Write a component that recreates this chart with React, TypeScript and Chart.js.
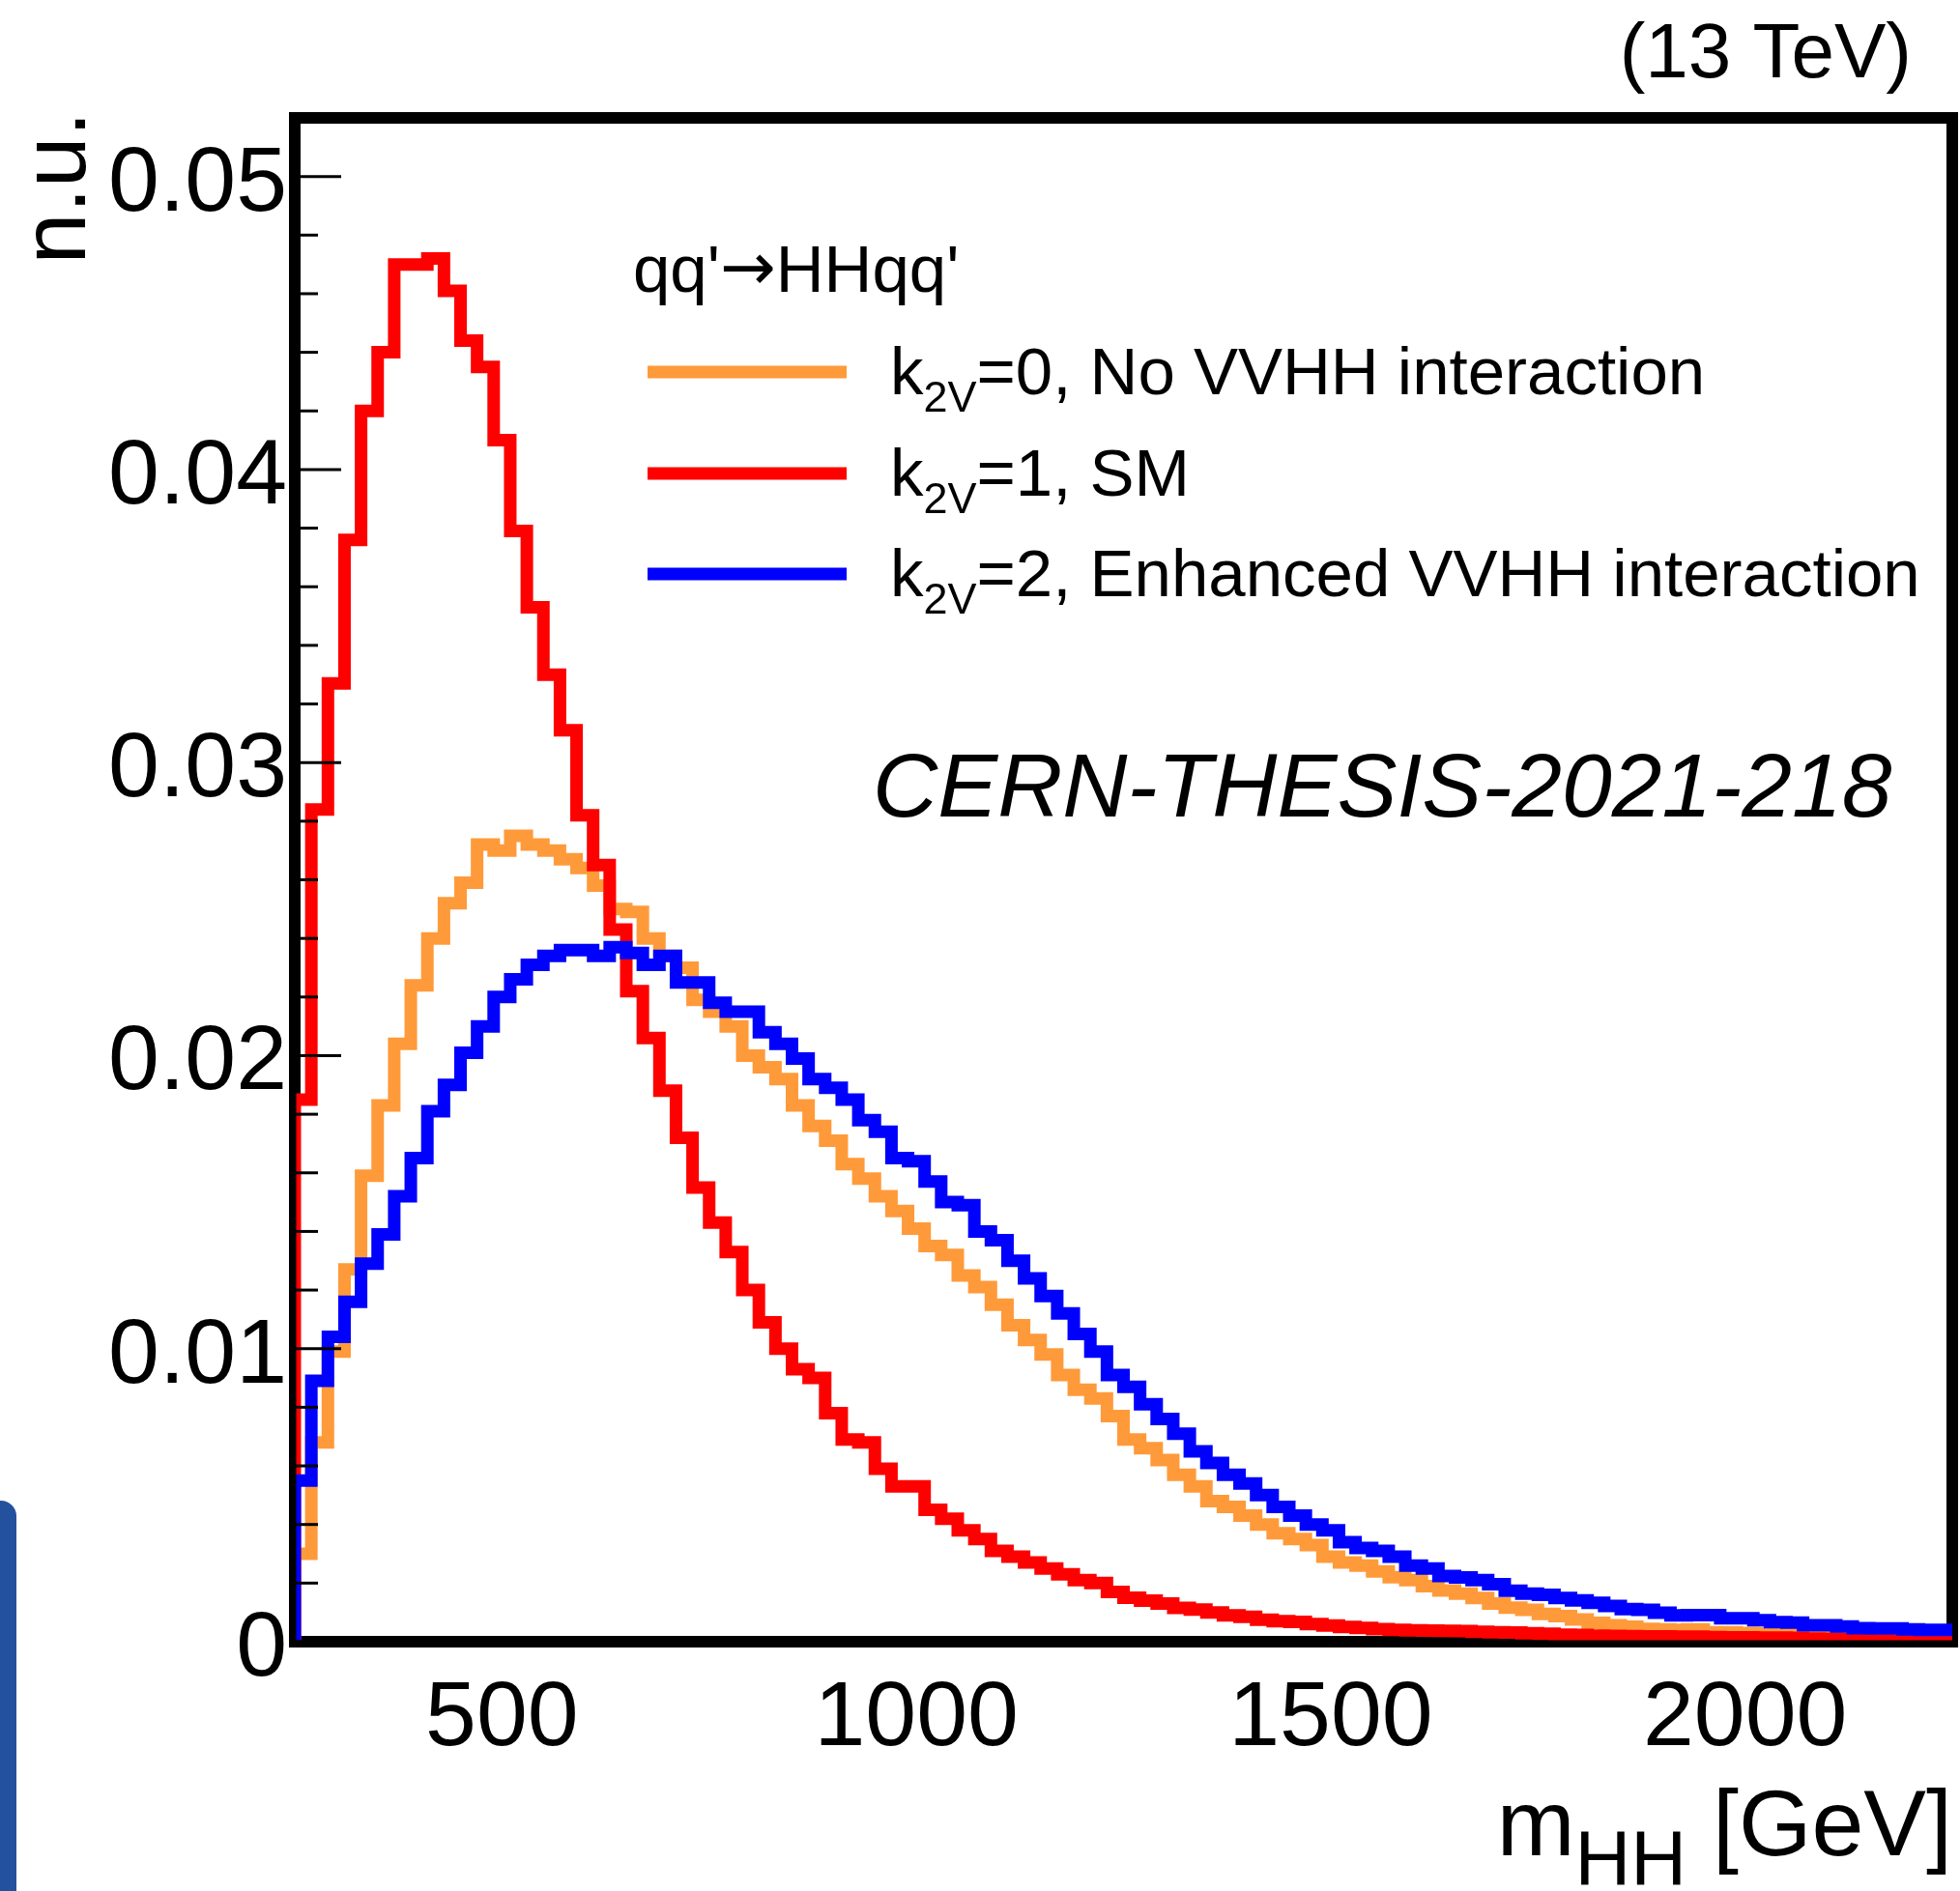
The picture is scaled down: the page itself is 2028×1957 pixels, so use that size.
import React, { useEffect, useRef } from "react";
import { Chart, registerables } from "chart.js";

Chart.register(...registerables);

// ---- axis / binning ----
const BIN_LOW = 250;
const BIN_WIDTH = 20;
const X_RANGE = [250, 2250];
const Y_RANGE = [0, 0.052];
const X_MAJOR_TICKS = [500, 1000, 1500, 2000];
const X_TICK_LABELS = ["500", "1000", "1500", "2000"];
const X_MINOR_STEP = 100;
const Y_MAJOR_TICKS = [0, 0.01, 0.02, 0.03, 0.04, 0.05];
const Y_TICK_LABELS = ["0", "0.01", "0.02", "0.03", "0.04", "0.05"];
const Y_MINOR_STEP = 0.002;

// ---- series (normalised m_HH distributions, 20 GeV bins from 250 GeV) ----
const K2V_0 = [
  0.0030, 0.0068, 0.0099, 0.0127, 0.0159, 0.0183, 0.0204, 0.0224, 0.0240, 0.0252,
  0.0259, 0.0272, 0.0270, 0.0275, 0.0272, 0.0270, 0.0267, 0.0264, 0.0258, 0.0250,
  0.0249, 0.0240, 0.0234, 0.0230, 0.0219, 0.0215, 0.0210, 0.0200, 0.0196, 0.0192,
  0.0183, 0.0176, 0.0171, 0.0163, 0.0158, 0.0152, 0.0147, 0.0141, 0.0135, 0.0132,
  0.0125, 0.0121, 0.0115, 0.0108, 0.0103, 0.0098, 0.0091, 0.0086, 0.0083, 0.0077,
  0.0069, 0.0066, 0.0062, 0.0057, 0.0053, 0.0048, 0.0046, 0.0043, 0.0040, 0.0037,
  0.0035, 0.0033, 0.0029, 0.0027, 0.0026, 0.0024, 0.0022, 0.0021, 0.0019, 0.00175,
  0.00164, 0.00149, 0.0013, 0.00116, 0.00109, 0.00095, 0.00087, 0.00076, 0.00064, 0.00056,
  0.00051, 0.00044, 0.00042, 0.0004, 0.00042, 0.00032, 0.00032, 0.0003, 0.00029, 0.00027,
  0.00025, 0.00023, 0.00022, 0.0002, 0.00019, 0.00018, 0.00017, 0.00016, 0.00015, 0.00014,
];
const K2V_1 = [
  0.0185, 0.0284, 0.0327, 0.0376, 0.0420, 0.0440, 0.0470, 0.0470, 0.0472, 0.0461,
  0.0444, 0.0435, 0.0410, 0.0379, 0.0353, 0.0330, 0.0311, 0.0282, 0.0265, 0.0243,
  0.0222, 0.0206, 0.0188, 0.0172, 0.0155, 0.0143, 0.0133, 0.0120, 0.0109, 0.0100,
  0.0093, 0.0090, 0.0078, 0.0069, 0.0068, 0.0059, 0.0053, 0.0053, 0.0045, 0.0042,
  0.0038, 0.0035, 0.0031, 0.0029, 0.0027, 0.0025, 0.0023, 0.0021, 0.0020, 0.0017,
  0.0015, 0.0014, 0.0013, 0.00115, 0.0011, 0.0010, 0.0009, 0.00085, 0.00075, 0.0007,
  0.00068, 0.0006, 0.00055, 0.0005, 0.00047, 0.00043, 0.0004, 0.00039, 0.00038, 0.00037,
  0.00036, 0.00034, 0.00032, 0.00031, 0.00029, 0.00027, 0.00024, 0.00023, 0.00021, 0.0002,
  0.00019, 0.00018, 0.00018, 0.00017, 0.00017, 0.00016, 0.00015, 0.00015, 0.00014, 0.00014,
  0.00013, 0.00011, 0.0001, 0.00008, 0.00005, 0.00004, 0.00003, 0.00003, 0.00002, 0.00002,
];
const K2V_2 = [
  0.0055, 0.0089, 0.0104, 0.0116, 0.0129, 0.0139, 0.0152, 0.0165, 0.0181, 0.0190,
  0.0201, 0.0210, 0.0220, 0.0226, 0.0231, 0.0234, 0.0236, 0.0236, 0.0234, 0.0237,
  0.0235, 0.0231, 0.0234, 0.0225, 0.0225, 0.0218, 0.0215, 0.0215, 0.0208, 0.0204,
  0.0199, 0.0192, 0.0189, 0.0185, 0.0178, 0.0174, 0.0165, 0.0164, 0.0157, 0.0150,
  0.0149, 0.0140, 0.0137, 0.0130, 0.0124, 0.0118, 0.0112, 0.0105, 0.0099, 0.0091,
  0.0087, 0.0081, 0.0076, 0.0071, 0.0065, 0.0061, 0.0057, 0.0054, 0.0050, 0.0046,
  0.0043, 0.0040, 0.0038, 0.0034, 0.0032, 0.0031, 0.0029, 0.0026, 0.0025, 0.00224,
  0.00219, 0.0021, 0.00196, 0.00174, 0.00164, 0.0016, 0.00149, 0.00141, 0.00133, 0.00122,
  0.00111, 0.00109, 0.00099, 0.0009, 0.00091, 0.00091, 0.0008, 0.0008, 0.00073, 0.00067,
  0.00065, 0.00056, 0.00056, 0.00052, 0.00046, 0.00045, 0.00045, 0.00042, 0.0004, 0.0004,
];

const SERIES = [K2V_0, K2V_1, K2V_2];
const SERIES_K = ["0", "1", "2"];
const SERIES_TEXT = [", No VVHH interaction", ", SM", ", Enhanced VVHH interaction"];
const SERIES_COLORS = ["#ff9a3a", "#ff0000", "#0000ff"];
const SERIES_ORDER = [3, 2, 1]; // blue on top, then red, then orange

const LEGEND_HEADER = ["qq'", "\u2192", "HHqq'"];
const TAG_TEXT = "CERN-THESIS-2021-218";
const ENERGY_TEXT = "(13 TeV)";
const Y_TITLE = "n.u.";

const FONT = "'Liberation Sans', Arial, Helvetica, sans-serif";
const ARROW_FONT = "'DejaVu Sans', 'Liberation Sans', sans-serif";

function histPoints(values: number[]) {
  const pts: { x: number; y: number }[] = [{ x: BIN_LOW, y: 0 }];
  values.forEach((v, i) => pts.push({ x: BIN_LOW + i * BIN_WIDTH, y: v }));
  pts.push({ x: BIN_LOW + values.length * BIN_WIDTH, y: values[values.length - 1] });
  return pts;
}

type Run = { text: string; size: number; dy: number; style?: string; family?: string };

function drawRuns(ctx: CanvasRenderingContext2D, x: number, y: number, runs: Run[], align: "left" | "right") {
  ctx.textAlign = "left";
  ctx.textBaseline = "alphabetic";
  const fontOf = (r: Run) => `${r.style || ""} ${r.size}px ${r.family || FONT}`;
  const widths = runs.map((r) => {
    ctx.font = fontOf(r);
    return ctx.measureText(r.text).width;
  });
  const total = widths.reduce((a, b) => a + b, 0);
  let cx = align === "right" ? x - total : x;
  runs.forEach((r, i) => {
    ctx.font = fontOf(r);
    ctx.fillText(r.text, cx, y + r.dy);
    cx += widths[i];
  });
}

const rootStylePlugin = {
  id: "rootStyle",
  beforeDatasetsDraw(chart: any) {
    const { ctx, chartArea: a } = chart;
    ctx.save();
    ctx.strokeStyle = "#000";
    ctx.lineWidth = 12;
    ctx.lineJoin = "miter";
    ctx.strokeRect(a.left, a.top, a.right - a.left, a.bottom - a.top);
    ctx.restore();
  },
  afterDatasetsDraw(chart: any) {
    const { ctx, chartArea: a, scales } = chart;
    const xs = scales.x;
    const ys = scales.y;
    ctx.save();
    ctx.strokeStyle = "#000";
    ctx.fillStyle = "#000";
    ctx.lineCap = "butt";

    // thin axis lines on top of the histograms
    ctx.lineWidth = 3;
    ctx.beginPath();
    ctx.moveTo(a.left, a.top);
    ctx.lineTo(a.left, a.bottom);
    ctx.lineTo(a.right, a.bottom);
    ctx.stroke();

    // y ticks
    const nY = Math.round((Y_RANGE[1] - Y_RANGE[0]) / Y_MINOR_STEP);
    for (let k = 0; k <= nY; k++) {
      const v = Y_RANGE[0] + k * Y_MINOR_STEP;
      const major = Y_MAJOR_TICKS.some((m) => Math.abs(m - v) < 1e-9);
      const py = ys.getPixelForValue(v);
      ctx.beginPath();
      ctx.moveTo(a.left, py);
      ctx.lineTo(a.left + (major ? 48 : 24), py);
      ctx.stroke();
    }
    // x ticks
    const nX = Math.round((X_RANGE[1] - X_RANGE[0]) / X_MINOR_STEP);
    for (let k = 0; k <= nX; k++) {
      const v = X_RANGE[0] + k * X_MINOR_STEP;
      if (v % X_MINOR_STEP !== 0) continue;
      const major = X_MAJOR_TICKS.includes(v);
      const px = xs.getPixelForValue(v);
      ctx.beginPath();
      ctx.moveTo(px, a.bottom);
      ctx.lineTo(px, a.bottom - (major ? 52 : 26));
      ctx.stroke();
    }

    // tick labels
    ctx.font = `95px ${FONT}`;
    ctx.textAlign = "right";
    ctx.textBaseline = "alphabetic";
    Y_MAJOR_TICKS.forEach((v, i) => {
      ctx.fillText(Y_TICK_LABELS[i], a.left - 8, ys.getPixelForValue(v) + 35);
    });
    ctx.textAlign = "center";
    X_MAJOR_TICKS.forEach((v, i) => {
      ctx.fillText(X_TICK_LABELS[i], xs.getPixelForValue(v), a.bottom + 107);
    });

    // y title (rotated)
    ctx.save();
    ctx.translate(88, a.top - 7);
    ctx.rotate(-Math.PI / 2);
    ctx.textAlign = "right";
    ctx.font = `95px ${FONT}`;
    ctx.fillText(Y_TITLE, 0, 0);
    ctx.restore();

    // x title m_HH [GeV]
    drawRuns(
      ctx,
      a.right,
      a.bottom + 221,
      [
        { text: "m", size: 97, dy: 0 },
        { text: "HH", size: 80, dy: 30 },
        { text: " [GeV]", size: 97, dy: 0 },
      ],
      "right"
    );

    // energy label
    ctx.font = `80px ${FONT}`;
    ctx.textAlign = "right";
    ctx.fillText(ENERGY_TEXT, 1978, 80);

    // legend
    drawRuns(
      ctx,
      655,
      302,
      [
        { text: LEGEND_HEADER[0], size: 69, dy: 0 },
        { text: LEGEND_HEADER[1], size: 69, dy: -2, family: ARROW_FONT },
        { text: LEGEND_HEADER[2], size: 69, dy: 0 },
      ],
      "left"
    );
    const rowY = [385, 490, 594];
    SERIES.forEach((_, i) => {
      ctx.strokeStyle = SERIES_COLORS[i];
      ctx.lineWidth = 13;
      ctx.beginPath();
      ctx.moveTo(670, rowY[i]);
      ctx.lineTo(876, rowY[i]);
      ctx.stroke();
      drawRuns(
        ctx,
        921,
        rowY[i] + 23,
        [
          { text: "k", size: 69, dy: 0 },
          { text: "2V", size: 45, dy: 18 },
          { text: "=" + SERIES_K[i] + SERIES_TEXT[i], size: 69, dy: 0 },
        ],
        "left"
      );
    });

    // tag
    ctx.textAlign = "left";
    ctx.font = `italic 93px ${FONT}`;
    ctx.fillText(TAG_TEXT, 903, 845);

    ctx.restore();
  },
};

export default function App() {
  const ref = useRef<HTMLCanvasElement | null>(null);
  useEffect(() => {
    if (!ref.current) return;
    const chart = new Chart(ref.current, {
      type: "line",
      data: {
        datasets: SERIES.map((vals, i) => ({
          label: "k2V=" + SERIES_K[i] + SERIES_TEXT[i],
          data: histPoints(vals),
          borderColor: SERIES_COLORS[i],
          backgroundColor: SERIES_COLORS[i],
          borderWidth: 13,
          stepped: "before" as const,
          pointRadius: 0,
          fill: false,
          order: SERIES_ORDER[i],
          borderJoinStyle: "miter" as const,
          borderCapStyle: "butt" as const,
          tension: 0,
        })),
      },
      options: {
        responsive: false,
        animation: false,
        devicePixelRatio: 1,
        events: [],
        layout: { padding: { left: 305, top: 122, right: 8, bottom: 258 } },
        plugins: {
          legend: { display: false },
          tooltip: { enabled: false },
          title: { display: false },
        },
        scales: {
          x: { type: "linear", min: X_RANGE[0], max: X_RANGE[1], display: false },
          y: { type: "linear", min: Y_RANGE[0], max: Y_RANGE[1], display: false },
        },
      },
      plugins: [rootStylePlugin],
    } as any);
    return () => chart.destroy();
  }, []);

  return (
    <div style={{ position: "absolute", left: 0, top: 0, width: 2028, height: 1957, background: "#fff", overflow: "hidden" }}>
      <canvas ref={ref} width={2028} height={1957} style={{ position: "absolute", left: 0, top: 0, width: 2028, height: 1957 }} />
      <div
        style={{
          position: "absolute",
          left: 0,
          top: 1553,
          width: 17,
          height: 404,
          background: "rgb(35,81,158)",
          borderTopRightRadius: 16,
        }}
      />
    </div>
  );
}
